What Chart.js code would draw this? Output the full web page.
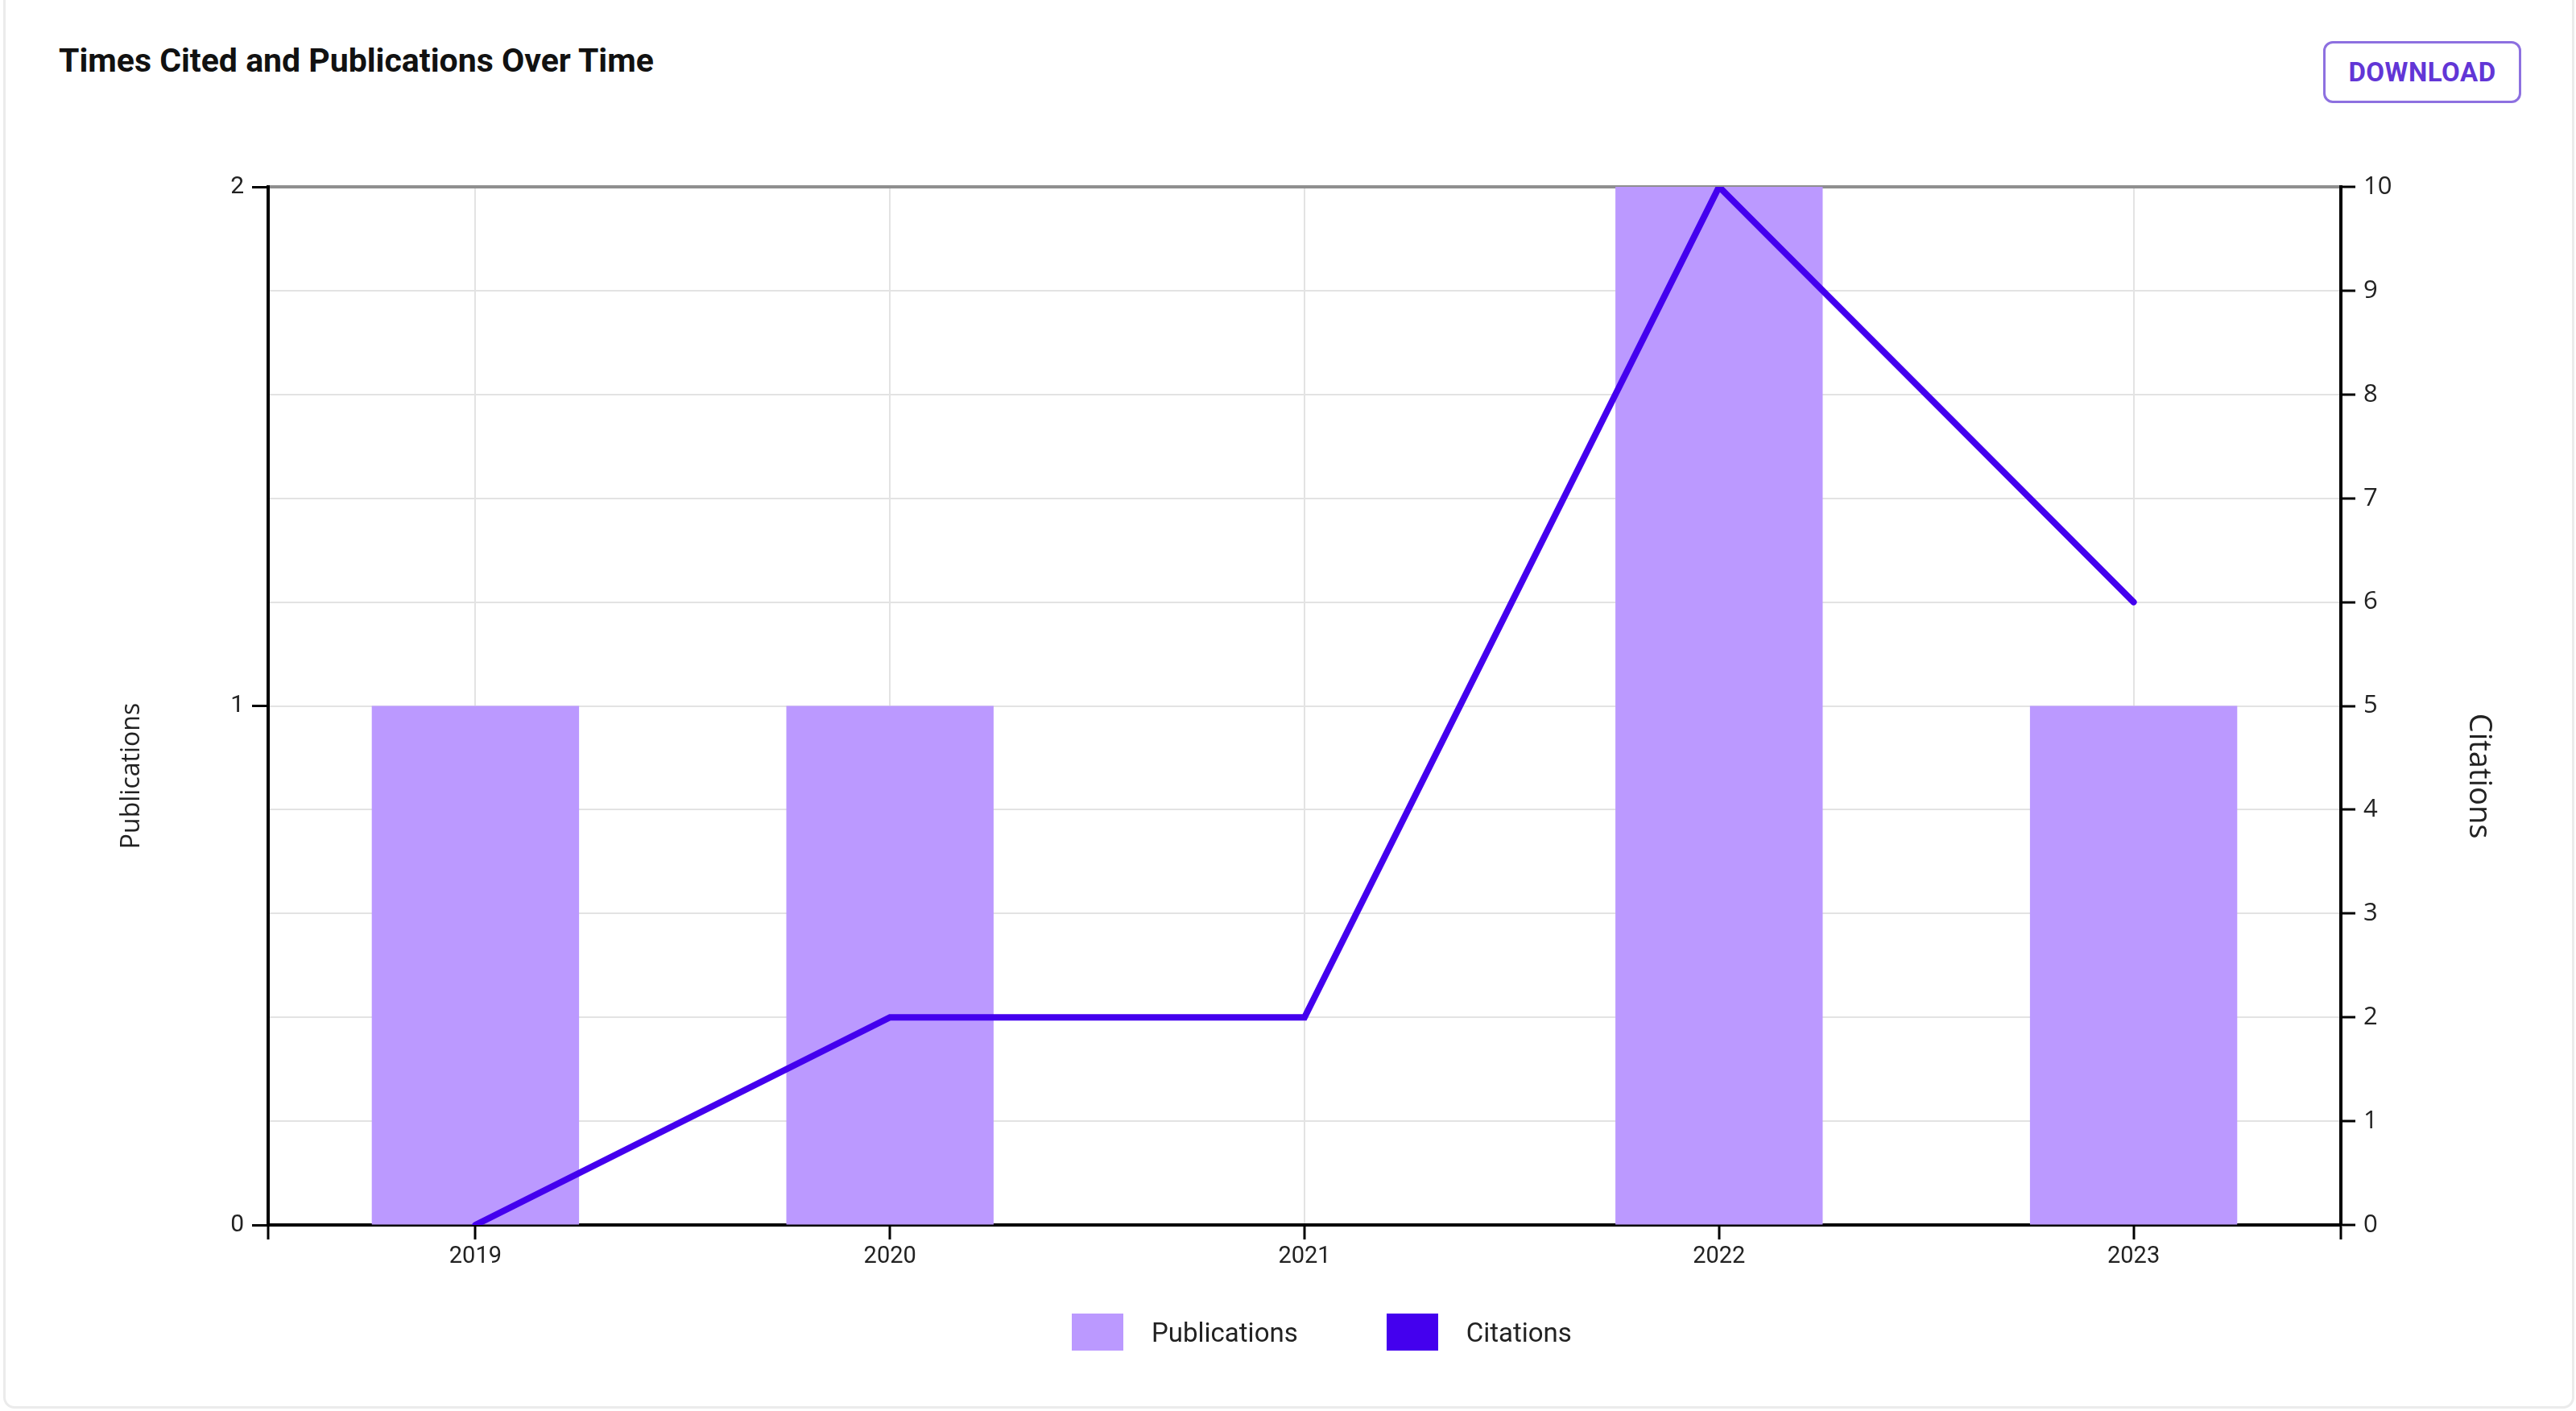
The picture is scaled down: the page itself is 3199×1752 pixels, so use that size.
<!DOCTYPE html>
<html>
<head>
<meta charset="utf-8">
<script src="https://cdn.jsdelivr.net/npm/chart.js@4.4.0/dist/chart.umd.min.js"></script>
<style>
html,body{margin:0;padding:0;background:#fff;}
body{width:3199px;height:1752px;position:relative;overflow:hidden;font-family:Roboto,sans-serif;}
.card{position:absolute;left:4px;top:-14px;width:3193px;height:1763px;border:3px solid #ebebeb;border-radius:14px;box-sizing:border-box;}
h1{position:absolute;left:73px;top:55px;margin:0;font:700 41px/1 Roboto,sans-serif;color:#111;white-space:nowrap;}
.dl{position:absolute;left:2885px;top:51px;width:246px;height:77px;box-sizing:border-box;border:3px solid #8d70e0;border-radius:12px;display:flex;align-items:center;justify-content:center;font:700 33px Roboto,sans-serif;color:#6236d6;letter-spacing:0.5px;}
#wrap{position:absolute;left:0;top:0;width:3199px;height:1752px;}
#legend{position:absolute;left:1331px;top:1631px;height:46px;display:flex;align-items:center;font:400 33px Roboto,sans-serif;color:#222;}
#legend .item{display:flex;align-items:center;}
#legend .item + .item{margin-left:110px;}
#legend .box{width:64px;height:46px;margin-right:35px;}
</style>
</head>
<body>
<div class="card"></div>
<h1>Times Cited and Publications Over Time</h1>
<div class="dl">DOWNLOAD</div>
<div id="wrap"><canvas id="chart"></canvas></div>
<div id="legend"></div>
<script>
// ---- data ----
const YEARS = ['2019', '2020', '2021', '2022', '2023'];
const PUBLICATIONS = [1, 1, 0, 2, 1];
const CITATIONS = [0, 2, 2, 10, 6];
const PUB_MAX = 2, PUB_STEP = 1;
const CIT_MAX = 10, CIT_STEP = 1;

const BAR_COLOR = '#bb99ff';
const LINE_COLOR = '#4400ee';
const GRID = '#e3e3e3';
const TEXT = '#222';

// axis titles + little edge ticks under the x axis
const axisExtras = {
  id: 'axisExtras',
  afterDraw(chart) {
    const { ctx, chartArea: a } = chart;
    const midY = (a.top + a.bottom) / 2 + 87;
    ctx.save();
    ctx.strokeStyle = '#000'; ctx.lineWidth = 3;
    ctx.beginPath();
    ctx.moveTo(a.left, a.bottom); ctx.lineTo(a.left, a.bottom + 18);
    ctx.moveTo(a.right, a.bottom); ctx.lineTo(a.right, a.bottom + 18);
    ctx.stroke();
    ctx.fillStyle = TEXT; ctx.textAlign = 'center'; ctx.textBaseline = 'alphabetic';
    ctx.font = '32px "Open Sans"';
    ctx.translate(a.left - 160, midY); ctx.rotate(-Math.PI / 2);
    ctx.fillText('Publications', 0, 0);
    ctx.restore();
    ctx.save();
    ctx.fillStyle = TEXT; ctx.textAlign = 'center'; ctx.textBaseline = 'alphabetic';
    ctx.font = '38px "Open Sans"';
    ctx.translate(a.right + 160, midY); ctx.rotate(Math.PI / 2);
    ctx.fillText('Citations', 0, 0);
    ctx.restore();
  }
};

const chart = new Chart(document.getElementById('chart'), {
  data: {
    labels: YEARS,
    datasets: [
      { type: 'bar', label: 'Publications', data: PUBLICATIONS, yAxisID: 'yPub', order: 1,
        backgroundColor: BAR_COLOR, borderWidth: 0, barPercentage: 0.5, categoryPercentage: 1 },
      { type: 'line', label: 'Citations', data: CITATIONS, yAxisID: 'yCit', order: 0,
        borderColor: LINE_COLOR, backgroundColor: LINE_COLOR, borderWidth: 8, pointRadius: 0,
        tension: 0, borderCapStyle: 'round', borderJoinStyle: 'miter' }
    ]
  },
  options: {
    responsive: true, maintainAspectRatio: false, animation: false, devicePixelRatio: 1,
    layout: { padding: { top: 232, left: 0, right: 0, bottom: 161 } },
    plugins: { legend: { display: false }, tooltip: { enabled: false } },
    scales: {
      x: {
        offset: true,
        grid: { offset: false, color: GRID, lineWidth: 2, tickColor: '#000', tickWidth: 3, tickLength: 18 },
        border: { color: '#000', width: 4 },
        ticks: { color: TEXT, font: { family: 'Roboto', size: 29 }, padding: 4, maxRotation: 0 },
        afterFit: s => { s.height = 70; }
      },
      yPub: {
        position: 'left', min: 0, max: PUB_MAX,
        grid: { drawOnChartArea: false, tickColor: '#000', tickWidth: 3, tickLength: 20 },
        border: { color: '#000', width: 4 },
        ticks: { stepSize: PUB_STEP, color: TEXT, font: { family: 'Roboto', size: 30 }, padding: 10 },
        afterFit: s => { s.width = 333; }
      },
      yCit: {
        position: 'right', min: 0, max: CIT_MAX,
        grid: {
          color: c => c.tick && c.tick.value === CIT_MAX ? '#8f8f8f' : GRID,
          lineWidth: c => c.tick && c.tick.value === CIT_MAX ? 4 : 2,
          tickColor: '#000', tickWidth: 3, tickLength: 18
        },
        border: { color: '#000', width: 4 },
        ticks: { stepSize: CIT_STEP, color: TEXT, font: { family: 'Open Sans', size: 31 }, padding: 10 },
        afterFit: s => { s.width = 292; }
      }
    }
  },
  plugins: [axisExtras]
});

// html legend from the datasets
const legendEl = document.getElementById('legend');
chart.data.datasets.forEach(ds => {
  const item = document.createElement('div');
  item.className = 'item';
  const box = document.createElement('span');
  box.className = 'box';
  box.style.background = ds.type === 'bar' ? ds.backgroundColor : ds.borderColor;
  const txt = document.createElement('span');
  txt.textContent = ds.label;
  item.appendChild(box); item.appendChild(txt);
  legendEl.appendChild(item);
});
</script>
</body>
</html>
